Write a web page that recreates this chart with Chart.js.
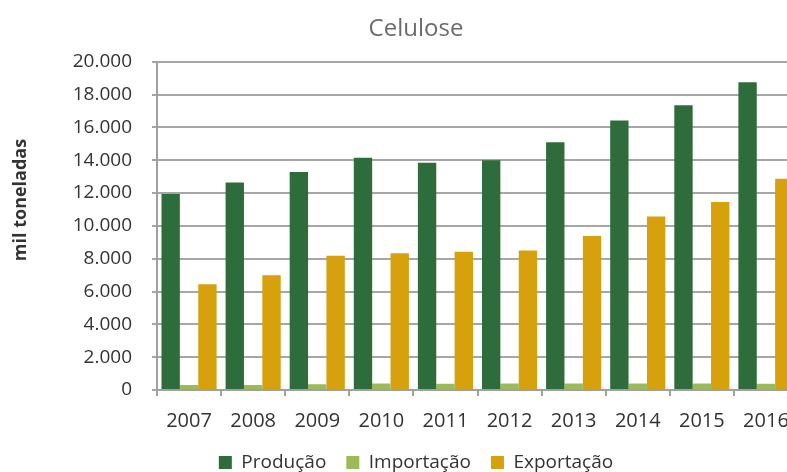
<!DOCTYPE html>
<html>
<head>
<meta charset="utf-8">
<script src="https://cdn.jsdelivr.net/npm/chart.js@4/dist/chart.umd.min.js"></script>
<style>
  html, body { margin: 0; padding: 0; background: #fff; overflow: hidden; }
  #wrap { width: 832px; height: 482px; }
</style>
</head>
<body>
<div id="wrap"><canvas id="chart" width="832" height="482"></canvas></div>
<script>
// --------------------- Data -------------------
const years = ['2007', '2008', '2009', '2010', '2011', '2012', '2013', '2014', '2015', '2016'];
const producao = [11950, 12650, 13280, 14150, 13850, 14000, 15100, 16430, 17350, 18750];
const importacao = [300, 300, 350, 400, 380, 400, 400, 400, 400, 380];
const exportacao = [6450, 7000, 8180, 8330, 8420, 8500, 9380, 10580, 11460, 12880];
const yMax = 20000;
const yStep = 2000;

const font = "'Open Sans', sans-serif";
const rightPad = 34;

// thousands with a dot, like 20.000
function fmt(v) {
    return String(v).replace(/\B(?=(\d{3})+(?!\d))/g, '.');
}

// y axis title drawn by hand, it sits higher than the chart area centre
const yTitle = {
    id: 'yTitle',
    afterDraw(chart) {
        const ctx = chart.ctx;
        ctx.save();
        ctx.translate(21, 200);
        ctx.rotate(-Math.PI / 2);
        ctx.font = "bold 18px " + font;
        ctx.fillStyle = '#333';
        ctx.textAlign = 'center';
        ctx.textBaseline = 'middle';
        ctx.fillText('mil toneladas', 0, 0);
        ctx.restore();
    }
};

// title and legend are centred on the whole canvas, not on the padded area
const centerBoxes = {
    id: 'centerBoxes',
    afterLayout(chart) {
        const dx = rightPad / 2;
        [chart.titleBlock, chart.legend].forEach(b => {
            if (b) { b.left += dx; b.right += dx; }
        });
    }
};

const ctx = document.getElementById('chart').getContext('2d');
new Chart(ctx, {
    type: 'bar',
    data: {
        labels: years,
        datasets: [
            { label: 'Produção', data: producao, backgroundColor: '#2f6c3b' },
            { label: 'Importação', data: importacao, backgroundColor: '#9bbb59' },
            { label: 'Exportação', data: exportacao, backgroundColor: '#d6a10c' }
        ]
    },
    options: {
        responsive: false,
        animation: false,
        layout: { padding: { left: 0, right: rightPad, top: 0, bottom: 0 } },
        datasets: {
            bar: { barPercentage: 1, categoryPercentage: 0.86 }
        },
        plugins: {
            title: {
                display: true,
                text: 'Celulose',
                color: '#6b6b6b',
                font: { family: font, size: 24, weight: 'normal' },
                padding: { top: 15, bottom: 18 }
            },
            legend: {
                position: 'bottom',
                labels: {
                    boxWidth: 13,
                    boxHeight: 13,
                    padding: 20,
                    color: '#333',
                    font: { family: font, size: 19 }
                }
            },
            tooltip: { enabled: false }
        },
        scales: {
            x: {
                afterFit(scale) { scale.height = 43; },
                grid: {
                    display: true,
                    drawOnChartArea: false,
                    drawTicks: true,
                    tickLength: 6,
                    color: '#a0a0a0',
                    lineWidth: 2
                },
                border: { color: '#a0a0a0', width: 2 },
                ticks: {
                    color: '#333',
                    padding: 13,
                    font: { family: font, size: 20 }
                }
            },
            y: {
                min: 0,
                max: yMax,
                afterFit(scale) { scale.width = 157; },
                grid: {
                    color: '#a6a6a6',
                    lineWidth: 2,
                    drawTicks: true,
                    tickLength: 5
                },
                border: { color: '#a0a0a0', width: 2 },
                ticks: {
                    stepSize: yStep,
                    color: '#333',
                    padding: 20,
                    font: { family: font, size: 19 },
                    callback: v => fmt(v)
                }
            }
        }
    },
    plugins: [yTitle, centerBoxes]
});
</script>
</body>
</html>
